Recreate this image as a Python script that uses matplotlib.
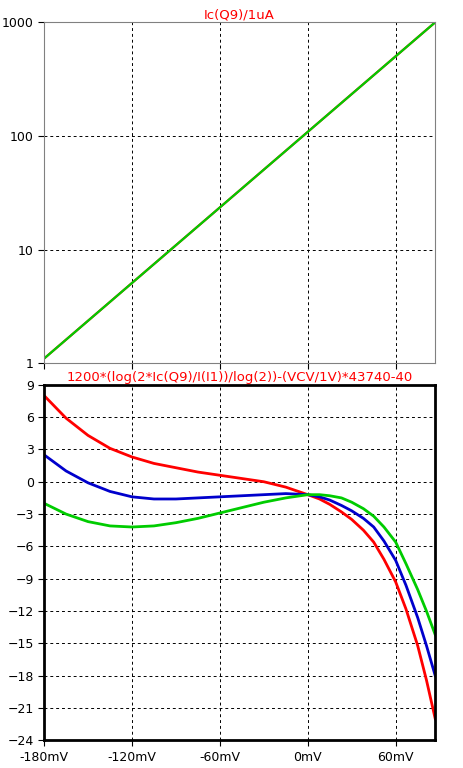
import matplotlib
matplotlib.use("Agg")
import matplotlib.pyplot as plt

top_x = [-180, 87]
top_y = [1.1, 1000]

vx = [-180,-165,-150,-135,-120,-105,-90,-75,-60,-45,-30,-15,0,8,15,23,30,38,45,52,60,67,75,81,87]
red = [8.0,5.9,4.3,3.1,2.3,1.7,1.3,0.9,0.6,0.3,0.0,-0.5,-1.2,-1.6,-2.1,-2.8,-3.5,-4.5,-5.6,-7.2,-9.3,-11.8,-15.2,-18.4,-22]
blue = [2.5,1.0,-0.1,-0.9,-1.4,-1.6,-1.6,-1.5,-1.4,-1.3,-1.2,-1.1,-1.2,-1.4,-1.7,-2.2,-2.7,-3.4,-4.2,-5.5,-7.3,-9.6,-12.6,-15.2,-18]
green = [-2.0,-3.0,-3.7,-4.1,-4.2,-4.1,-3.8,-3.4,-2.9,-2.4,-1.9,-1.5,-1.2,-1.2,-1.3,-1.5,-1.9,-2.5,-3.2,-4.2,-5.6,-7.6,-10.0,-12.0,-14.2]
xticks = [-180,-120,-60,0,60]
xlabels = ["-180mV","-120mV","-60mV","0mV","60mV"]
yticks = list(range(-24,10,3))

fig = plt.figure(figsize=(4.64,7.68), dpi=100)
ax1 = fig.add_axes([0.095,0.527,0.843,0.444])
ax2 = fig.add_axes([0.095,0.036,0.843,0.463])

ax1.plot(top_x, top_y, color="red", lw=1.6)
ax1.plot(top_x, top_y, color="#00cc00", lw=1.6)
ax1.set_yscale("log")
ax1.set_ylim(1,1000)
ax1.set_xlim(-180,87)
ax1.set_xticks(xticks)
ax1.set_xticklabels([])
ax1.set_yticks([1,10,100,1000])
ax1.set_yticklabels(["1","10","100","1000"])
ax1.minorticks_off()
ax1.set_title("Ic(Q9)/1uA", color="red", fontsize=9.5, pad=3)
for s in ax1.spines.values():
    s.set_color("gray")

ax2.plot(vx, red, color="red", lw=2)
ax2.plot(vx, blue, color="#0000cc", lw=2)
ax2.plot(vx, green, color="#00cc00", lw=2)
ax2.set_xlim(-180,87)
ax2.set_ylim(-24,9)
ax2.set_xticks(xticks)
ax2.set_xticklabels(xlabels)
ax2.set_yticks(yticks)
ax2.set_title("1200*(log(2*Ic(Q9)/I(I1))/log(2))-(VCV/1V)*43740-40", color="red", fontsize=9.5, pad=3)
for s in ax2.spines.values():
    s.set_linewidth(2)

for ax in (ax1, ax2):
    ax.grid(True, color="black", ls=(0,(3,3)), lw=0.7)
    ax.tick_params(labelsize=9, length=4, direction="out")

fig.savefig("out.png", dpi=100)
